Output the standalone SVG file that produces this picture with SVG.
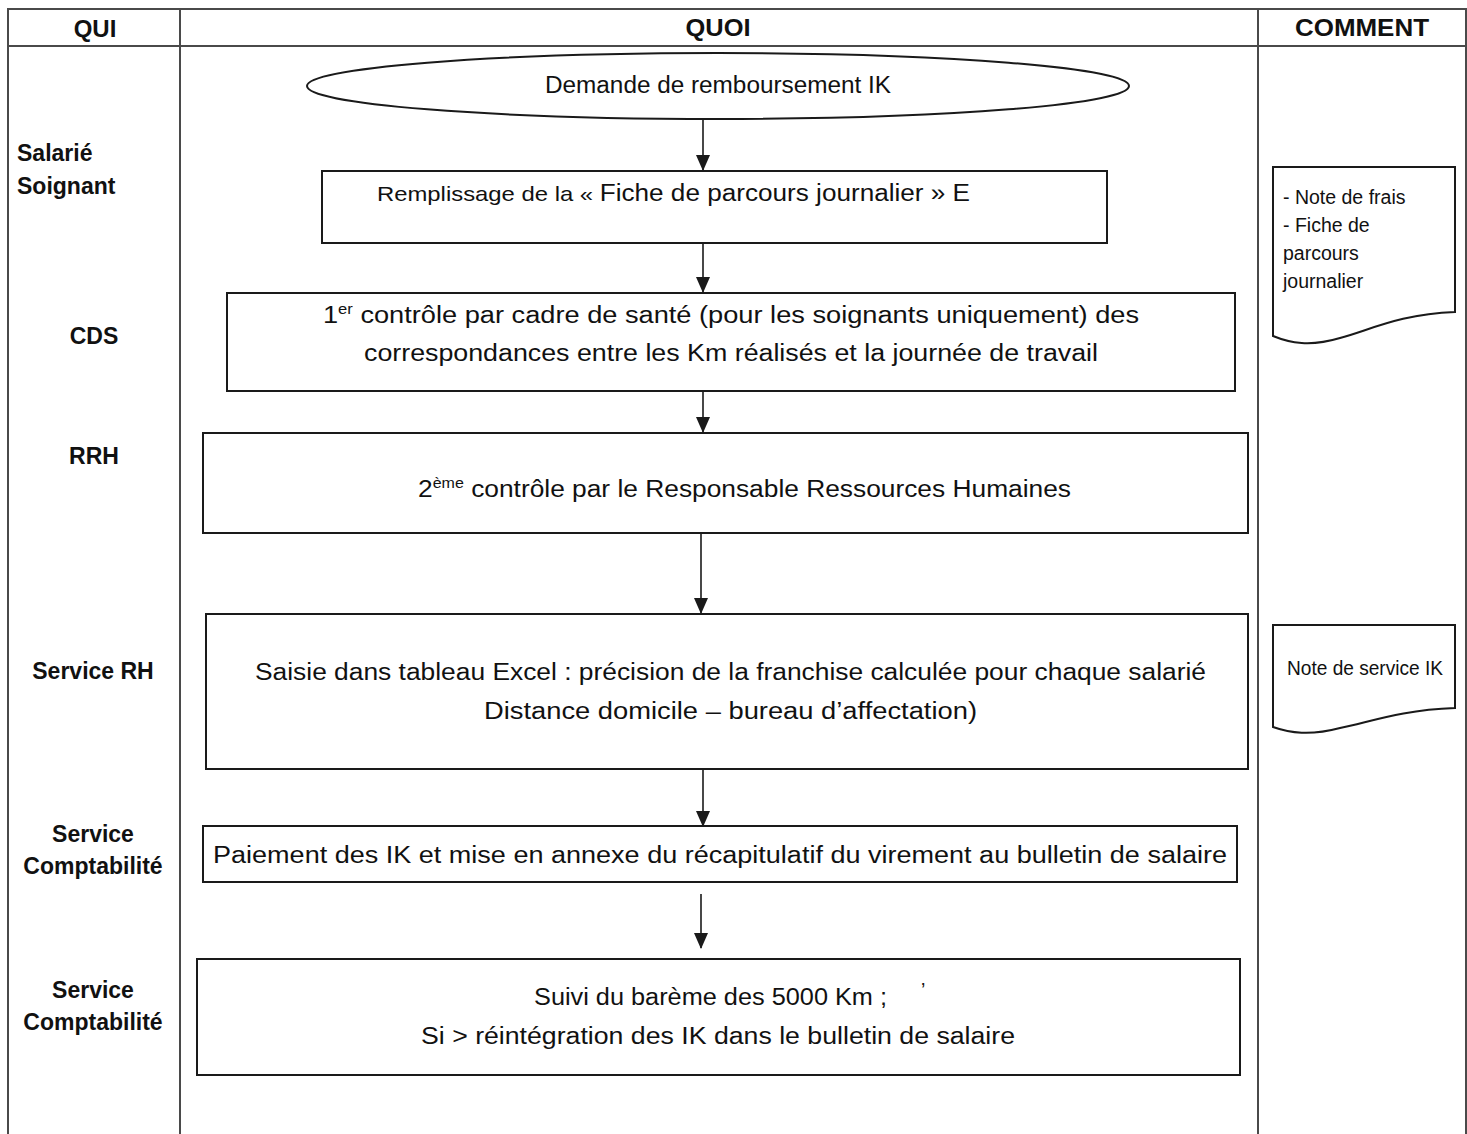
<svg xmlns="http://www.w3.org/2000/svg" width="1467" height="1134" viewBox="0 0 1467 1134">
<style>
.grid{stroke:#4a4a4a;stroke-width:2;fill:none}
.box{fill:#fff;stroke:#1a1a1a;stroke-width:2}
.hd{font-family:"Liberation Sans",Arial,sans-serif;font-weight:bold;font-size:24px;fill:#111;text-anchor:middle}
.lbl{font-family:"Liberation Sans",Arial,sans-serif;font-weight:bold;font-size:23px;fill:#111}
.t{font-family:"Liberation Sans",Arial,sans-serif;font-size:23px;fill:#111}
.s{font-family:"Liberation Sans",Arial,sans-serif;font-size:19.5px;fill:#111}
.con{stroke:#1a1a1a;stroke-width:1.6;fill:none;marker-end:url(#ah)}
</style>
<defs>
<marker id="ah" markerWidth="16" markerHeight="14" refX="15" refY="7" orient="auto" markerUnits="userSpaceOnUse">
<path d="M0,0 L16,7 L0,14 Z" fill="#1a1a1a"/>
</marker>
</defs>
<rect width="1467" height="1134" fill="#fff"/>
<g id="table">
<path class="grid" d="M8,1134 V9 H1466 V1134 M8,46 H1466 M180,9 V1134 M1258,9 V1134"/>
<text class="hd" x="95" y="37">QUI</text>
<text class="hd" x="718" y="36" textLength="65" lengthAdjust="spacingAndGlyphs">QUOI</text>
<text class="hd" x="1362" y="36" textLength="134" lengthAdjust="spacingAndGlyphs">COMMENT</text>
</g>
<g id="labels">
<text class="lbl" x="17" y="161">Salarié</text>
<text class="lbl" x="17" y="194">Soignant</text>
<text class="lbl" x="94" y="344" text-anchor="middle">CDS</text>
<text class="lbl" x="94" y="464" text-anchor="middle">RRH</text>
<text class="lbl" x="93" y="679" text-anchor="middle">Service RH</text>
<text class="lbl" x="93" y="842" text-anchor="middle">Service</text>
<text class="lbl" x="93" y="874" text-anchor="middle">Comptabilité</text>
<text class="lbl" x="93" y="998" text-anchor="middle">Service</text>
<text class="lbl" x="93" y="1030" text-anchor="middle">Comptabilité</text>
</g>
<g id="connectors">
<line class="con" x1="703" y1="120" x2="703" y2="170"/>
<line class="con" x1="703" y1="243" x2="703" y2="292"/>
<line class="con" x1="703" y1="391" x2="703" y2="432"/>
<line class="con" x1="701" y1="533" x2="701" y2="613"/>
<line class="con" x1="703" y1="769" x2="703" y2="826"/>
<line class="con" x1="701" y1="894" x2="701" y2="948"/>
</g>
<g id="start">
<ellipse class="box" cx="718" cy="86" rx="411" ry="33"/>
<text class="t" x="718" y="93" text-anchor="middle" font-size="21" textLength="346" lengthAdjust="spacingAndGlyphs">Demande de remboursement IK</text>
</g>
<g id="step1">
<rect class="box" x="322" y="171" width="785" height="72"/>
<text class="t" x="377" y="201" textLength="593" lengthAdjust="spacingAndGlyphs"><tspan font-size="21">Remplissage de la « </tspan>Fiche de parcours journalier » E</text>
</g>
<g id="step2">
<rect class="box" x="227" y="293" width="1008" height="98"/>
<text class="t" x="323" y="323" textLength="816" lengthAdjust="spacingAndGlyphs">1<tspan font-size="14" dy="-9">er</tspan><tspan dy="9"> contrôle par cadre de santé (pour les soignants uniquement)  des</tspan></text>
<text class="t" x="364" y="361" textLength="734" lengthAdjust="spacingAndGlyphs">correspondances entre les Km réalisés et la journée de travail</text>
</g>
<g id="step3">
<rect class="box" x="203" y="433" width="1045" height="100"/>
<text class="t" x="418" y="497" textLength="653" lengthAdjust="spacingAndGlyphs">2<tspan font-size="14" dy="-9">ème</tspan><tspan dy="9"> contrôle par le Responsable Ressources Humaines</tspan></text>
</g>
<g id="step4">
<rect class="box" x="206" y="614" width="1042" height="155"/>
<text class="t" x="255" y="680" textLength="951" lengthAdjust="spacingAndGlyphs">Saisie dans tableau Excel : précision de la franchise calculée pour chaque salarié</text>
<text class="t" x="484" y="719" textLength="493" lengthAdjust="spacingAndGlyphs">Distance domicile – bureau d’affectation)</text>
</g>
<g id="step5">
<rect class="box" x="203" y="826" width="1034" height="56"/>
<text class="t" x="213" y="863" textLength="1014" lengthAdjust="spacingAndGlyphs">Paiement des IK et mise en annexe du récapitulatif du virement au bulletin de salaire</text>
</g>
<g id="step6">
<rect class="box" x="197" y="959" width="1043" height="116"/>
<text class="t" x="534" y="1005" textLength="353" lengthAdjust="spacingAndGlyphs">Suivi du barème des 5000 Km ;</text>
<text class="s" x="921" y="997" font-size="14">’</text>
<text class="t" x="421" y="1044" textLength="594" lengthAdjust="spacingAndGlyphs">Si &gt; réintégration des IK dans le bulletin de salaire</text>
</g>
<g id="doc1">
<path class="box" d="M1273,167 H1455 V312 C1400,314 1370,330 1340,338 C1310,347 1290,343 1273,336 Z"/>
<text class="s" x="1283" y="204">- Note de frais</text>
<text class="s" x="1283" y="232">- Fiche de</text>
<text class="s" x="1283" y="260">parcours</text>
<text class="s" x="1283" y="288">journalier</text>
</g>
<g id="doc2">
<path class="box" d="M1273,625 H1455 V708 C1400,710 1370,722 1340,728 C1310,736 1290,733 1273,727 Z"/>
<text class="s" x="1365" y="675" text-anchor="middle" textLength="156" lengthAdjust="spacingAndGlyphs">Note de service IK</text>
</g>
</svg>
